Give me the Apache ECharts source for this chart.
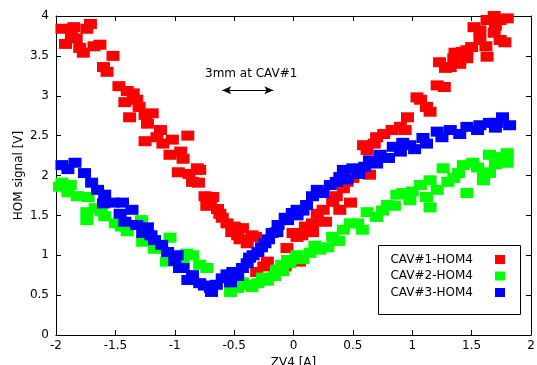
<!DOCTYPE html>
<html>
<head>
<meta charset="utf-8">
<script src="https://cdn.jsdelivr.net/npm/echarts@6/dist/echarts.min.js"></script>
<style>
html,body{margin:0;padding:0;background:#fff;}
#chart{width:537px;height:365px;}
</style>
</head>
<body>
<div id="chart"></div>
<script>
// ---- data ----
var seriesNames = ['CAV#1-HOM4', 'CAV#2-HOM4', 'CAV#3-HOM4'];
var xTicks = [-2, -1.5, -1, -0.5, 0, 0.5, 1, 1.5, 2];
var yTicks = [0, 0.5, 1, 1.5, 2, 2.5, 3, 3.5, 4];

var cav1 = [
  [-1.95,3.84],[-1.85,3.86],[-1.71,3.90],[-1.74,3.84],[-1.87,3.76],[-1.92,3.65],[-1.80,3.60],
  [-1.77,3.54],[-1.63,3.64],[-1.52,3.50],[-1.57,3.30],[-1.47,3.12],[-1.35,3.03],[-1.32,2.95],
  [-1.42,2.92],[-1.38,2.73],[-1.25,2.76],[-1.19,2.78],[-1.23,2.65],[-1.12,2.57],[-1.25,2.43],
  [-1.15,2.48],[-1.02,2.45],[-0.89,2.50],[-1.04,2.26],[-0.93,2.21],[-0.81,2.09],[-0.97,2.04],
  [-0.79,2.07],[-0.85,1.92],[-0.80,1.91],[-0.745,1.74],[-0.68,1.73],[-0.73,1.62],[-0.64,1.58],
  [-0.60,1.47],[-0.56,1.40],[-0.52,1.29],[-0.43,1.34],[-0.47,1.25],[-0.35,1.25],[-0.39,1.15],
  [-0.32,1.23],[-0.22,0.92],[-0.31,0.79],[-0.25,0.86],[-0.055,1.09],[-0.004,1.28],
  [-1.83,3.72],[-1.68,3.62],[-1.60,3.36],[-1.40,3.06],[-1.30,2.86],[-1.10,2.40],[-0.95,2.30],
  [-0.88,2.02],[-0.70,1.66],[-0.62,1.52],[-0.50,1.36],[-0.45,1.20],[-0.07,0.86],[0.05,0.92],
  [0.03,1.23],[0.07,1.25],[0.16,1.29],[0.16,1.40],[0.27,1.42],[0.25,1.57],[0.39,1.57],
  [0.33,1.67],[0.48,1.66],[0.45,1.92],[0.50,1.97],[0.59,2.38],[0.62,2.32],[0.64,2.01],
  [0.10,1.36],[0.20,1.52],[0.36,1.74],[0.42,1.84],[0.55,2.05],[0.68,2.40],[0.76,2.52],
  [0.70,2.48],[0.83,2.57],[0.90,2.61],[0.96,2.73],[0.94,2.57],[1.07,2.95],[1.12,2.86],
  [1.15,2.80],[1.04,2.98],[1.21,3.13],[1.27,3.11],[1.23,3.42],[1.35,3.47],[1.46,3.47],
  [1.32,3.36],[1.36,3.54],[1.46,3.57],[1.50,3.61],[1.57,3.70],[1.63,3.49],[1.57,3.82],
  [1.69,3.79],[1.74,3.70],[1.78,3.67],[1.52,3.86],[1.63,3.95],[1.74,3.95],[1.69,4.0],[1.80,3.97],
  [1.40,3.40],[1.28,3.35],[1.42,3.55],[1.62,3.62],[1.70,3.88]
];
var cav2 = [
  [-1.95,1.91],[-1.97,1.86],[-1.90,1.79],[-1.82,1.74],[-1.73,1.73],[-1.74,1.54],[-1.74,1.44],
  [-1.67,1.59],[-1.59,1.49],[-1.50,1.40],[-1.40,1.30],[-1.28,1.44],[-1.27,1.17],[-1.17,1.08],
  [-1.04,1.22],[-1.07,0.92],[-0.93,0.92],[-0.85,1.00],[-0.79,0.88],[-0.73,0.84],
  [-1.88,1.88],[-1.62,1.55],[-1.45,1.36],[-1.35,1.38],[-1.22,1.25],[-1.12,1.12],[-0.90,1.02],
  [-0.53,0.54],[-0.47,0.59],[-0.39,0.63],[-0.30,0.65],[-0.22,0.68],[-0.16,0.74],[-0.09,0.80],
  [-0.03,0.90],[0.02,0.97],[-0.14,0.82],[-0.05,0.94],[0.03,1.00],[0.14,1.03],[0.22,1.07],
  [-0.43,0.66],[-0.35,0.60],[-0.26,0.72],[-0.10,0.88],[0.08,0.95],[0.18,1.12],[0.38,1.18],
  [0.29,1.10],[0.33,1.23],[0.42,1.32],[0.48,1.40],[0.54,1.40],[0.62,1.54],[0.70,1.48],
  [0.79,1.63],[0.87,1.76],[0.92,1.78],[0.98,1.69],[1.07,1.88],[1.15,1.94],[1.21,1.82],
  [0.58,1.32],[0.75,1.56],[0.85,1.62],[1.00,1.80],[1.35,1.97],[1.55,2.10],[1.70,2.14],
  [1.12,1.73],[1.15,1.60],[1.26,2.09],[1.30,1.92],[1.39,2.03],[1.43,2.13],[1.46,1.78],
  [1.51,2.16],[1.60,2.04],[1.60,1.94],[1.65,2.26],[1.74,2.23],[1.80,2.28],[1.80,2.16],[1.65,2.03]
];
var cav3 = [
  [-1.95,2.13],[-1.84,2.16],[-1.76,2.03],[-1.70,1.91],[-1.65,1.82],[-1.59,1.76],[-1.52,1.66],
  [-1.44,1.66],[-1.36,1.57],[-1.42,1.42],[-1.32,1.38],[-1.23,1.35],[-1.27,1.28],[-1.17,1.19],
  [-1.11,1.13],[-1.06,1.04],[-0.98,1.00],[-0.96,0.84],[-0.93,0.84],[-0.89,0.69],[-0.79,0.65],
  [-1.90,2.08],[-1.60,1.65],[-1.46,1.52],[-1.20,1.25],[-1.00,0.93],[-0.85,0.75],[-0.75,0.62],
  [-0.70,0.59],[-0.69,0.54],[-0.60,0.71],[-0.53,0.66],[-0.51,0.79],[-0.43,0.84],[-0.39,0.90],
  [-0.65,0.63],[-0.56,0.76],[-0.47,0.74],[-0.34,1.00],[-0.27,1.10],[-0.21,1.20],
  [-0.37,0.97],[-0.30,1.04],[-0.24,1.15],[-0.18,1.28],[-0.13,1.38],[-0.07,1.47],[-0.01,1.53],
  [0.03,1.57],[-0.14,1.29],[-0.05,1.44],[0.03,1.50],[0.11,1.63],[0.20,1.82],[0.31,1.88],
  [0.08,1.56],[0.16,1.74],[0.25,1.78],[0.36,1.92],[0.45,1.95],[0.55,2.02],[0.70,2.15],
  [0.80,2.22],[0.90,2.30],[1.02,2.33],[1.12,2.40],[1.25,2.48],[1.40,2.52],[1.55,2.57],[1.70,2.60],
  [0.39,1.98],[0.42,2.07],[0.50,2.09],[0.60,2.11],[0.64,2.19],[0.73,2.26],[0.84,2.36],
  [0.92,2.41],[0.98,2.38],[1.09,2.47],[1.21,2.55],[1.32,2.57],[1.46,2.61],[1.57,2.63],
  [1.65,2.66],[1.71,2.66],[1.76,2.73],[1.82,2.63]
];
var arrowY = 3.07;
var arrowFrom = -0.6;
var arrowTo = -0.17;
var annotationText = '3mm at CAV#1';
var xAxisName = 'ZV4 [A]';
var yAxisName = 'HOM signal [V]';

// ---- chart ----
var FONT = 'DejaVu Sans';
var chart = echarts.init(document.getElementById('chart'), null, {renderer: 'canvas'});
var colors = ['#ff0000', '#00ff00', '#0000ff'];
var datasets = [cav1, cav2, cav3];

function axisBase(extra) {
  var o = {
    type: 'value',
    axisLine: {show: true, onZero: false, lineStyle: {color: '#000', width: 1}},
    axisTick: {show: true, inside: true, length: 5, lineStyle: {color: '#000'}},
    splitLine: {show: false},
    axisLabel: {color: '#000', fontFamily: FONT, fontSize: 12}
  };
  for (var k in extra) o[k] = extra[k];
  return o;
}

var series = datasets.map(function (d, i) {
  var s = {
    name: seriesNames[i],
    type: 'scatter',
    data: d,
    symbol: 'rect',
    symbolSize: [13, 10],
    itemStyle: {color: colors[i], opacity: 1},
    clip: false,
    z: 2 + i
  };
  if (i === 0) {
    s.markLine = {
      silent: true,
      symbol: ['arrow', 'arrow'],
      symbolSize: [6, 9],
      lineStyle: {color: '#000', width: 1, type: 'solid'},
      label: {show: false},
      data: [[{coord: [arrowFrom, arrowY]}, {coord: [arrowTo, arrowY]}]]
    };
  }
  return s;
});

var option = {
  animation: false,
  backgroundColor: '#fff',
  grid: {left: 56, right: 6, top: 16, bottom: 30, containLabel: false, outerBoundsMode: 'none'},
  xAxis: [
    axisBase({min: xTicks[0], max: xTicks[xTicks.length - 1], interval: 0.5, position: 'bottom',
      name: xAxisName, nameLocation: 'middle', nameGap: 22, nameMoveOverlap: false,
      nameTextStyle: {color: '#000', fontFamily: FONT, fontSize: 12},
      axisLabel: {color: '#000', fontFamily: FONT, fontSize: 12, margin: 5}}),
    axisBase({min: xTicks[0], max: xTicks[xTicks.length - 1], interval: 0.5, position: 'top',
      axisLabel: {show: false}})
  ],
  yAxis: [
    axisBase({min: yTicks[0], max: yTicks[yTicks.length - 1], interval: 0.5, position: 'left',
      name: yAxisName, nameLocation: 'middle', nameGap: 31, nameRotate: 90, nameMoveOverlap: false,
      nameTextStyle: {color: '#000', fontFamily: FONT, fontSize: 12},
      axisLabel: {color: '#000', fontFamily: FONT, fontSize: 12, margin: 7}}),
    axisBase({min: yTicks[0], max: yTicks[yTicks.length - 1], interval: 0.5, position: 'right',
      axisLabel: {show: false}})
  ],
  legend: {
    orient: 'vertical',
    right: 32,
    top: 252,
    align: 'right',
    itemWidth: 10,
    itemHeight: 9,
    itemGap: 1.5,
    padding: 0,
    data: seriesNames.map(function (n) { return {name: n, icon: 'rect'}; }),
    textStyle: {color: '#000', fontFamily: FONT, fontSize: 12, lineHeight: 15, padding: [0, 17, 0, 0]}
  },
  graphic: [
    {type: 'rect', left: 376, top: 243, shape: {width: 142, height: 69},
      style: {fill: null, stroke: '#000', lineWidth: 1}, z: 10},
    {type: 'text', left: 205, top: 68, style: {text: annotationText, fill: '#000', font: '12px "DejaVu Sans"'}, z: 10}
  ],
  series: series
};
chart.setOption(option);
</script>
</body>
</html>
